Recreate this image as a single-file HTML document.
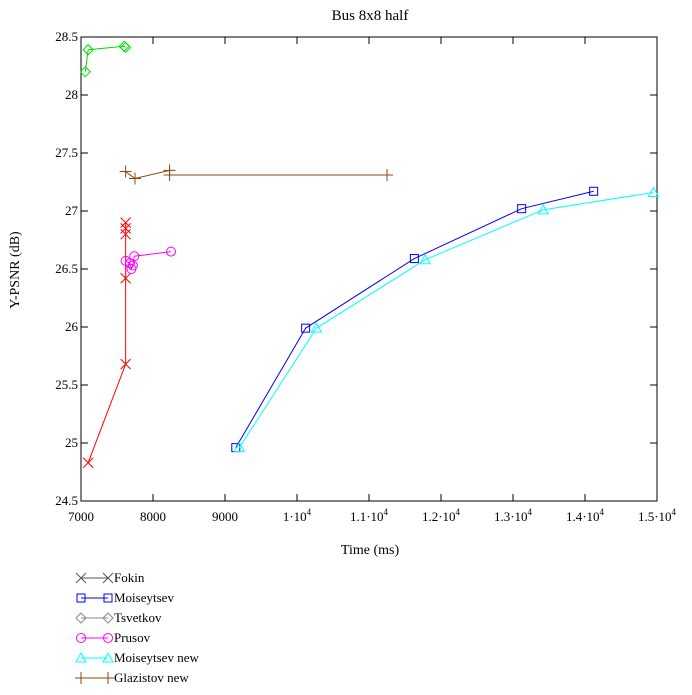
<!DOCTYPE html>
<html><head><meta charset="utf-8"><style>
body{margin:0;background:#fff;}
svg text{font-family:"Liberation Serif",serif;font-size:13px;fill:#000;}
</style></head><body>
<svg id="chart" width="692" height="690">
<text x="370" y="20" text-anchor="middle" style="font-size:15px">Bus 8x8 half</text>
<rect x="81" y="37" width="576" height="464" fill="none" stroke="#000"/>
<g id="axes"></g>
<g id="series"></g>
<text x="370" y="554" text-anchor="middle" style="font-size:14px">Time (ms)</text>
<text transform="translate(19,270) rotate(-90)" text-anchor="middle" style="font-size:14px">Y-PSNR (dB)</text>
<g id="legend"></g>
</svg>
<script>
const xTicks=[7000,8000,9000,10000,11000,12000,13000,14000,15000];
const xTickLabels=["7000","8000","9000","1·10^4","1.1·10^4","1.2·10^4","1.3·10^4","1.4·10^4","1.5·10^4"];
const yTicks=[24.5,25,25.5,26,26.5,27,27.5,28,28.5];
const seriesNames=["Fokin","Moiseytsev","Tsvetkov","Prusov","Moiseytsev new","Glazistov new"];
const fokinX=[7100,7620,7620,7620,7620,7620];
const fokinY=[24.83,25.68,26.42,26.8,26.85,26.9];
const moisX=[9150,10120,11630,13120,14120];
const moisY=[24.96,25.99,26.59,27.02,27.17];
const tsvX=[7060,7100,7600,7620];
const tsvY=[28.2,28.39,28.42,28.41];
const prusX=[7620,7680,7700,7720,7740,8250];
const prusY=[26.57,26.55,26.5,26.53,26.61,26.65];
const moisNewX=[9200,10270,11780,13420,14950];
const moisNewY=[24.96,25.99,26.58,27.01,27.16];
const glazX=[7620,7750,8230,8230,11250];
const glazY=[27.34,27.28,27.35,27.31,27.31];

const NS="http://www.w3.org/2000/svg";
const L=81,R=657,T=37,B=501;
const xs=v=>L+(v-7000)/8000*(R-L);
const ys=v=>B-(v-24.5)/4*(B-T);
function mk(tag,attrs,parent){const e=document.createElementNS(NS,tag);for(const k in attrs)e.setAttribute(k,attrs[k]);parent.appendChild(e);return e;}
const axes=document.getElementById('axes');
xTicks.forEach((t,i)=>{
 const x=xs(t);
 const a=mk('line',{x1:x,y1:B,x2:x,y2:B-7,stroke:'#000'},axes);
 
 
 const b=mk('line',{x1:x,y1:T,x2:x,y2:T+7,stroke:'#000'},axes);
 
 
 const tx=mk('text',{x:x,y:B+20,'text-anchor':'middle'},axes);
 
 
 const parts=xTickLabels[i].split('^');
 tx.textContent=parts[0];
 if(parts[1]){const s=mk('tspan',{dy:-6,style:'font-size:9px'},tx);s.textContent=parts[1];}
});
yTicks.forEach(t=>{
 const y=ys(t);
 const a=mk('line',{x1:L,y1:y,x2:L+7,y2:y,stroke:'#000'},axes);
 
 
 const b=mk('line',{x1:R,y1:y,x2:R-7,y2:y,stroke:'#000'},axes);
 
 
 const tx=mk('text',{x:L-3,y:y+4,'text-anchor':'end'},axes);
 
 
 tx.textContent=String(t);
});
function marker(type,x,y,c,g){
 let e;
 if(type==='x')e=mk('path',{d:`M${x-5},${y-5}L${x+5},${y+5}M${x-5},${y+5}L${x+5},${y-5}`,stroke:c,fill:'none'},g);
 else if(type==='sq')e=mk('rect',{x:x-4,y:y-4,width:8,height:8,stroke:c,fill:'none'},g);
 else if(type==='di')e=mk('path',{d:`M${x},${y-5}L${x+5},${y}L${x},${y+5}L${x-5},${y}Z`,stroke:c,fill:'none'},g);
 else if(type==='ci')e=mk('circle',{cx:x,cy:y,r:4.5,stroke:c,fill:'none'},g);
 else if(type==='tr')e=mk('path',{d:`M${x},${y-5}L${x+5},${y+4}L${x-5},${y+4}Z`,stroke:c,fill:'none'},g);
 else e=mk('path',{d:`M${x-6},${y}L${x+6},${y}M${x},${y-6}L${x},${y+6}`,stroke:c,fill:'none'},g);
 
 
}
const defs=[[fokinX,fokinY,'#ff0000','x','#555555'],[moisX,moisY,'#0000ff','sq','#0000ff'],[tsvX,tsvY,'#00dd00','di','#888888'],[prusX,prusY,'#ff00ff','ci','#ff00ff'],[moisNewX,moisNewY,'#00ffff','tr','#00ffff'],[glazX,glazY,'#8b4513','pl','#8b4513']];
const sg=document.getElementById('series');
defs.forEach((d,i)=>{
 const g=mk('g',{},sg);
 
 
 const pts=d[0].map((v,j)=>xs(v)+','+ys(d[1][j])).join(' ');
 const pl=mk('polyline',{points:pts,fill:'none',stroke:d[2]},g);
 
 
 d[0].forEach((v,j)=>marker(d[3],xs(v),ys(d[1][j]),d[2],g));
});
const lg=document.getElementById('legend');
seriesNames.forEach((n,i)=>{
 const y=578+i*20;
 const g=mk('g',{},lg);
 
 
 const c=defs[i][4];
 const l=mk('line',{x1:81,y1:y,x2:108,y2:y,stroke:c},g);
 
 
 marker(defs[i][3],81,y,c,g);marker(defs[i][3],108,y,c,g);
 const t=mk('text',{x:114,y:y+4},g);
 
 
 t.textContent=n;
});
</script>
</body></html>
